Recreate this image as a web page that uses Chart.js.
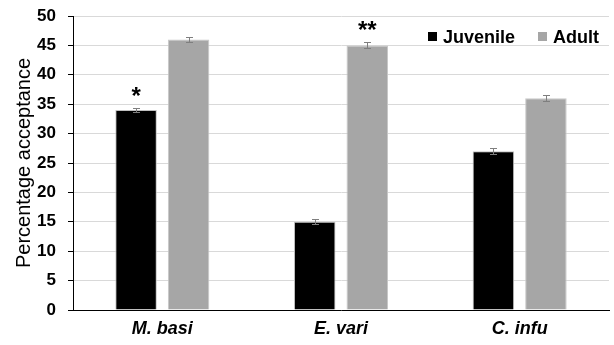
<!DOCTYPE html>
<html>
<head>
<meta charset="utf-8">
<script src="https://cdn.jsdelivr.net/npm/chart.js@4/dist/chart.umd.min.js"></script>
<style>
    html, body { margin: 0; padding: 0; background: #fff; }
    #wrap { width: 614px; height: 345px; position: relative; }
</style>
</head>
<body>
<div id="wrap"><canvas id="chart"></canvas></div>
<script>
// Dados do gráfico
const species = ['M. basi', 'E. vari', 'C. infu'];
const seriesNames = ['Juvenile', 'Adult'];
const juvenile = [34, 15, 27];
const adult = [46, 45, 36];
const juvenileErr = [0.4, 0.4, 0.5];
const adultErr = [0.5, 0.5, 0.5];
const juvenileStars = ['*', '', ''];
const adultStars = ['', '**', ''];
const yTicks = [0, 5, 10, 15, 20, 25, 30, 35, 40, 45, 50];

const FONT = "'Liberation Sans', Arial, sans-serif";
const colors = ['#000000', '#a6a6a6'];

// Barras de erro e asteriscos
const errorBarsPlugin = {
    id: 'errorBars',
    afterDatasetsDraw(chart) {
        const ctx = chart.ctx;
        const y = chart.scales.y;
        const errs = [juvenileErr, adultErr];
        const stars = [juvenileStars, adultStars];
        ctx.save();
        chart.data.datasets.forEach((ds, di) => {
            const meta = chart.getDatasetMeta(di);
            meta.data.forEach((bar, i) => {
                const v = ds.data[i];
                const e = errs[di][i];
                const top = Math.round(y.getPixelForValue(v + e)) + 0.5;
                const bot = Math.round(y.getPixelForValue(v - e)) + 0.5;
                const x = Math.round(bar.x) + 0.5;
                ctx.strokeStyle = '#7f7f7f';
                ctx.lineWidth = 1;
                ctx.beginPath();
                ctx.moveTo(x, top); ctx.lineTo(x, bot);
                ctx.moveTo(x - 3.5, top); ctx.lineTo(x + 3.5, top);
                ctx.moveTo(x - 3.5, bot); ctx.lineTo(x + 3.5, bot);
                ctx.stroke();

                const s = stars[di][i];
                if (s) {
                    ctx.fillStyle = '#000';
                    ctx.font = 'bold 24px ' + FONT;
                    ctx.textAlign = 'center';
                    ctx.textBaseline = 'alphabetic';
                    ctx.fillText(s, bar.x, top - 5);
                }
            });
        });
        ctx.restore();
    }
};

// Legenda desenhada dentro da área do gráfico
const legendPlugin = {
    id: 'insideLegend',
    afterDraw(chart) {
        const ctx = chart.ctx;
        const items = [{ x: 428 }, { x: 538 }];
        ctx.save();
        ctx.font = 'bold 18px ' + FONT;
        ctx.textAlign = 'left';
        ctx.textBaseline = 'alphabetic';
        items.forEach((it, i) => {
            ctx.fillStyle = colors[i];
            ctx.fillRect(it.x, 32, 9, 9);
            ctx.fillStyle = '#000';
            ctx.fillText(seriesNames[i], it.x + 15, 43);
        });
        ctx.restore();
    }
};

new Chart(document.getElementById('chart'), {
    type: 'bar',
    data: {
        labels: species,
        datasets: [{
            label: seriesNames[0],
            data: juvenile,
            backgroundColor: colors[0],
            borderColor: '#bfbfbf',
            borderWidth: 1
        }, {
            label: seriesNames[1],
            data: adult,
            backgroundColor: colors[1],
            borderColor: '#c8c8c8',
            borderWidth: 1
        }]
    },
    options: {
        responsive: true,
        maintainAspectRatio: false,
        animation: false,
        categoryPercentage: 0.588,
        barPercentage: 0.79,
        layout: {
            padding: { top: 16, right: 5, bottom: 0, left: 0 }
        },
        plugins: {
            legend: { display: false },
            tooltip: { enabled: false }
        },
        scales: {
            x: {
                grid: { display: false },
                border: { color: '#000', width: 1 },
                ticks: {
                    color: '#000',
                    padding: 0,
                    font: { family: FONT, size: 18, weight: 'bold', style: 'italic' }
                },
                afterFit(scale) { scale.height = 35; }
            },
            y: {
                min: 0,
                max: 50,
                afterBuildTicks(scale) {
                    scale.ticks = yTicks.map(v => ({ value: v }));
                },
                grid: {
                    color: '#d9d9d9',
                    tickColor: '#000',
                    tickLength: 5,
                    drawTicks: true
                },
                border: { color: '#000', width: 1 },
                ticks: {
                    color: '#000',
                    padding: 12,
                    font: { family: FONT, size: 17, weight: 'bold' }
                },
                title: {
                    display: true,
                    text: 'Percentage acceptance',
                    color: '#000',
                    padding: { top: 12, bottom: 0 },
                    font: { family: FONT, size: 20 }
                },
                afterFit(scale) {
                    scale.width = 73;
                    scale.paddingTop = 0;
                    scale.paddingBottom = 0;
                }
            }
        }
    },
    plugins: [errorBarsPlugin, legendPlugin]
});
</script>
</body>
</html>
